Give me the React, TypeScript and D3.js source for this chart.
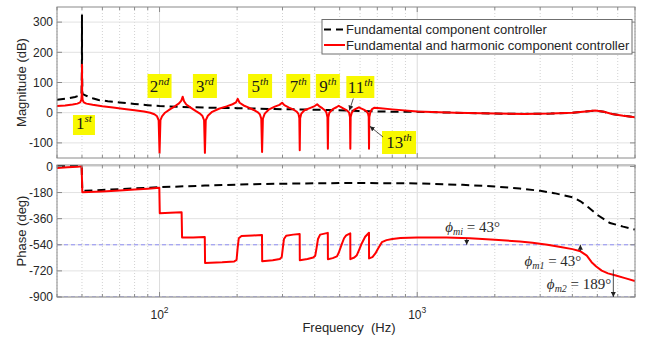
import React from 'react';
import * as d3 from 'd3';

type Pt = [number, number];

// Open-loop magnitude, [frequency Hz, dB]
const magFundamental: Pt[] = [
  [40, 43], [44, 47], [47, 52], [49, 57], [49.8, 62], [49.95, 130], [50, 325], [50.05, 130],
  [50.2, 62], [52, 56], [55, 48], [58, 42], [63, 38], [70, 34], [80, 29], [90, 25], [100, 22],
  [120, 19], [150, 17], [200, 15], [280, 12], [350, 11], [450, 9], [550, 7], [650, 5], [800, 3],
  [1000, 3], [1400, 0], [2000, -3], [2600, -4], [3300, -3], [4000, 0], [4500, 4], [4900, 7],
  [5300, 3], [5700, -4], [6300, -10], [7000, -15],
];

const magHarmonic: Pt[] = [
  [40, 22], [43, 24], [46, 27], [48, 30], [49.2, 34], [49.7, 42], [49.9, 60], [50, 159], [50.1, 60],
  [50.3, 42], [50.8, 34], [52, 30], [55, 26], [60, 21], [66, 17], [73, 12], [80, 8], [87, 4], [92, 0],
  [95.5, -5], [97.8, -12], [99.2, -25], [100, -133],
  [100.8, -25], [102.2, -12], [105, 0], [110, 12], [115, 22], [119, 31], [121.5, 40], [123, 53],
  [124.5, 38], [127, 27], [132, 17], [138, 6], [143, -2], [146.5, -10], [148.9, -25], [150, -133],
  [151.1, -25], [154, -10], [160, 3], [170, 13], [182, 21], [192, 28], [198, 34], [201, 46],
  [204.5, 33], [212, 24], [222, 17], [232, 9], [240, 2], [245, -5], [248.2, -20], [250, -130],
  [251.8, -20], [256, -3], [265, 10], [280, 20], [292, 26], [299, 33], [305, 25], [318, 17],
  [330, 11], [340, 4], [346, -4], [348.7, -18], [350, -124],
  [351.3, -18], [355, -3], [365, 8], [385, 16], [400, 22], [409, 28], [416, 22], [428, 15],
  [438, 8], [444, 1], [448.3, -15], [450, -119],
  [451.7, -15], [456, 0], [470, 12], [486, 18], [496, 23], [504, 19], [520, 13], [535, 7],
  [544, 0], [548.3, -14], [550, -119],
  [551.7, -14], [557, 0], [570, 10], [585, 15], [594, 18], [602, 15], [620, 10], [635, 5],
  [644, -2], [648.2, -14], [650, -119],
  [651.8, -14], [658, 2], [668, 12], [680, 16], [720, 15], [800, 11], [1000, 4], [1400, 0],
  [2000, -3], [2600, -4], [3300, -3], [4000, 0], [4500, 4], [4900, 7], [5300, 3], [5700, -4],
  [6300, -10], [7000, -15],
];

// Open-loop phase, [frequency Hz, degrees]
const phaseFundamental: Pt[] = [
  [40, 3], [45, 5], [49.85, 6], [50.15, -168], [55, -165], [65, -159], [80, -151], [100, -143],
  [150, -132], [200, -125], [300, -119], [400, -116], [600, -114], [1000, -117], [1500, -127],
  [2000, -138], [2500, -152], [3000, -168], [3400, -184], [4000, -212], [4300, -240], [4600, -280],
  [5000, -334], [5600, -390], [6300, -415], [7000, -435],
];

const phaseHarmonic: Pt[] = [
  [40, -10], [44, -6], [48, -2], [49.85, 1], [50.15, -178], [53, -176], [60, -172], [70, -165],
  [80, -159], [90, -153], [99.8, -147], [100.2, -323], [110, -320], [121.8, -316], [122.3, -490],
  [135, -489], [149.8, -487], [150.2, -665], [175, -661], [195, -655], [199, -645], [201, -560],
  [203, -495], [208, -480], [230, -476], [249.8, -473], [250.2, -653], [275, -647], [293, -638],
  [298, -625], [301, -560], [304, -500], [310, -478], [330, -470], [349.8, -466], [350.2, -647],
  [375, -638], [395, -628], [402, -615], [407, -560], [412, -500], [420, -470], [449.8, -458],
  [450.2, -640], [470, -632], [488, -620], [496, -595], [504, -560], [511, -530], [520, -495],
  [530, -475], [549.8, -461], [550.2, -639], [570, -628], [583, -612], [595, -575], [609, -531],
  [628, -485], [649.8, -457], [650.2, -634], [670, -625], [688, -600], [705, -565], [729, -522],
  [760, -508], [800, -500], [860, -493], [1000, -490], [1300, -489], [1600, -495], [2000, -505],
  [2500, -518], [2800, -526], [3200, -540], [3600, -555], [4000, -570], [4300, -585], [4550, -615],
  [4750, -660], [4950, -690], [5200, -718], [5500, -737], [5900, -752], [6400, -770], [7000, -790],
];

const magTicks = [-100, 0, 100, 200, 300];
const phaseTicks = [0, -180, -360, -540, -720, -900];
const phaseRefLines = [-540, -900];

const baseHz = 50;
const harmonicOrders = [1, 2, 3, 5, 7, 9, 11, 13];
const harmonicSuffixes = ['st', 'nd', 'rd', 'th', 'th', 'th', 'th', 'th'];

// Phase margins: [subscript, margin in degrees, frequency Hz, reference line, direction]
const marginSubs = ['mi', 'm1', 'm2'];
const marginDegrees = [43, 43, 189];
const marginHz = [1556, 4297, 5768];
const marginRefs = [-540, -540, -900];
const marginSigns = [1, -1, 1];

const legendNames = ['Fundamental component controller', 'Fundamental and harmonic component controller'];

// ---- layout ----
const X0 = 57;
const X1 = 635;
const MAG_TOP = 7;
const MAG_BOTTOM = 158;
const PH_TOP = 165;
const PH_BOTTOM = 297;

const SANS = '"Liberation Sans", Arial, Helvetica, sans-serif';
const SERIF = '"Liberation Serif", "DejaVu Serif", serif';
const AXIS_INK = '#262626';
const BOX = '#8a8a8a';
const RED = '#ff0000';

// tag placement per harmonic order: horizontal nudge from the harmonic, box top, width, height, baseline offset
const tagLayout: Record<number, { dx: number; top: number; w: number; h: number; base: number }> = {
  1: { dx: 2, top: 115, w: 22, h: 20, base: 14 },
  2: { dx: 0, top: 74, w: 24, h: 24, base: 18 },
  3: { dx: 0, top: 74, w: 24, h: 24, base: 18 },
  5: { dx: -2, top: 74, w: 24, h: 24, base: 18 },
  7: { dx: -1.5, top: 74, w: 24, h: 24, base: 18 },
  9: { dx: 0, top: 74, w: 24, h: 24, base: 18 },
  11: { dx: 10, top: 76, w: 28, h: 22, base: 16.5 },
  13: { dx: 30, top: 131, w: 34, h: 23, base: 17 },
};

export default function App() {
  const x = d3.scaleLog().domain([40, 7000]).range([X0, X1]);
  const yMag = d3.scaleLinear().domain([-150, 350]).range([MAG_BOTTOM, MAG_TOP]);
  const yPh = d3.scaleLinear().domain([-900, 10]).range([PH_BOTTOM, PH_TOP]);

  const magLine = d3.line<Pt>().x((d) => x(d[0])).y((d) => yMag(d[1]));
  const phLine = d3.line<Pt>().x((d) => x(d[0])).y((d) => yPh(d[1]));

  const fTicks = x.ticks();
  const isDecade = (f: number) => Math.abs(Math.log10(f) - Math.round(Math.log10(f))) < 1e-9;

  const panelFrame = (
    top: number,
    bottom: number,
    yScale: d3.ScaleLinear<number, number>,
    yTicks: number[],
    key: string
  ) => (
    <g key={key}>
      {/* vertical grid */}
      {fTicks.map((f) => (
        <line
          key={`vg${f}`}
          x1={x(f)}
          x2={x(f)}
          y1={top}
          y2={bottom}
          stroke={isDecade(f) ? '#dcdcdc' : '#d2d2d2'}
          strokeWidth={1}
          strokeDasharray={isDecade(f) ? undefined : '1 2'}
        />
      ))}
      {/* horizontal grid */}
      {yTicks.map((v) => (
        <line key={`hg${v}`} x1={X0} x2={X1} y1={yScale(v)} y2={yScale(v)} stroke="#e2e2e2" strokeWidth={1} />
      ))}
    </g>
  );

  const panelTicks = (
    top: number,
    bottom: number,
    yScale: d3.ScaleLinear<number, number>,
    yTicks: number[],
    key: string
  ) => (
    <g key={key} stroke={BOX} strokeWidth={1}>
      {fTicks.map((f) => {
        const len = isDecade(f) ? 5 : 3;
        return (
          <g key={`t${f}`}>
            <line x1={x(f)} x2={x(f)} y1={top} y2={top + len} />
            <line x1={x(f)} x2={x(f)} y1={bottom} y2={bottom - len} />
          </g>
        );
      })}
      {yTicks.map((v) => (
        <g key={`yt${v}`}>
          <line x1={X0} x2={X0 + 5} y1={yScale(v)} y2={yScale(v)} />
          <line x1={X1} x2={X1 - 5} y1={yScale(v)} y2={yScale(v)} />
        </g>
      ))}
      <rect x={X0} y={top} width={X1 - X0} height={bottom - top} fill="none" />
    </g>
  );

  return (
    <svg
      width={645}
      height={340}
      viewBox="0 0 645 340"
      style={{ position: 'absolute', left: 0, top: 0, background: '#fff' }}
    >
      <defs>
        <clipPath id="clipMag">
          <rect x={X0} y={MAG_TOP} width={X1 - X0} height={MAG_BOTTOM - MAG_TOP} />
        </clipPath>
        <clipPath id="clipPh">
          <rect x={X0} y={PH_TOP} width={X1 - X0} height={PH_BOTTOM - PH_TOP} />
        </clipPath>
        <marker
          id="head"
          viewBox="0 0 10 10"
          refX={10}
          refY={5}
          markerWidth={5}
          markerHeight={5}
          markerUnits="userSpaceOnUse"
          orient="auto"
        >
          <path d="M0,0 L10,5 L0,10 z" fill="#222" />
        </marker>
      </defs>

      <rect x={0} y={0} width={645} height={340} fill="#fff" />

      {panelFrame(MAG_TOP, MAG_BOTTOM, yMag, magTicks, 'magGrid')}
      {panelFrame(PH_TOP, PH_BOTTOM, yPh, phaseTicks, 'phGrid')}

      {/* magnitude curves */}
      <g clipPath="url(#clipMag)" fill="none">
        <path d={magLine(magFundamental) ?? ''} stroke="#000" strokeWidth={2} strokeDasharray="8 5" />
        <path d={magLine(magHarmonic) ?? ''} stroke={RED} strokeWidth={2} strokeLinejoin="round" />
      </g>

      {/* phase curves */}
      <g clipPath="url(#clipPh)" fill="none">
        {phaseRefLines.map((v) => (
          <line key={`ref${v}`} x1={X0} x2={X1} y1={yPh(v)} y2={yPh(v)} stroke="#8f8ff5" strokeWidth={1} strokeDasharray="4 3" />
        ))}
        <path d={phLine(phaseFundamental) ?? ''} stroke="#000" strokeWidth={2} strokeDasharray="8 5" />
        <path d={phLine(phaseHarmonic) ?? ''} stroke={RED} strokeWidth={2} strokeLinejoin="round" />
      </g>

      {panelTicks(MAG_TOP, MAG_BOTTOM, yMag, magTicks, 'magTicks')}
      {panelTicks(PH_TOP, PH_BOTTOM, yPh, phaseTicks, 'phTicks')}

      {/* y tick labels */}
      <g fontFamily={SANS} fontSize={12} fill={AXIS_INK} textAnchor="end">
        {magTicks.map((v) => (
          <text key={`ml${v}`} x={53} y={yMag(v)} dy="0.36em">
            {v}
          </text>
        ))}
        {phaseTicks.map((v) => (
          <text key={`pl${v}`} x={53} y={yPh(v)} dy="0.36em">
            {v}
          </text>
        ))}
      </g>

      {/* x tick labels, decades only */}
      <g fontFamily={SANS} fontSize={12} fill={AXIS_INK} textAnchor="middle">
        {fTicks.filter(isDecade).map((f) => (
          <text key={`xl${f}`} x={x(f)} y={318.5}>
            10
            <tspan fontSize={8.5} dy={-6}>
              {Math.round(Math.log10(f))}
            </tspan>
          </text>
        ))}
      </g>

      {/* axis titles */}
      <g fontFamily={SANS} fontSize={13} fill={AXIS_INK} textAnchor="middle">
        <text transform={`translate(26,${(MAG_TOP + MAG_BOTTOM) / 2}) rotate(-90)`}>Magnitude (dB)</text>
        <text transform={`translate(26,${(PH_TOP + PH_BOTTOM) / 2}) rotate(-90)`}>Phase (deg)</text>
        <text x={(X0 + X1) / 2 + 3} y={332} xmlSpace="preserve">
          Frequency  (Hz)
        </text>
      </g>

      {/* harmonic tags */}
      <g fontFamily={SERIF}>
        {harmonicOrders.map((n, i) => {
          const L = tagLayout[n];
          const cx = x(baseHz * n) + L.dx;
          return (
            <g key={`tag${n}`}>
              <rect x={cx - L.w / 2} y={L.top} width={L.w} height={L.h} fill="#f8f800" />
              <text x={cx} y={L.top + L.base} textAnchor="middle" fontSize={17} fill="#1a1a1a">
                {n}
                <tspan fontSize={11} fontStyle="italic" dy={-7}>
                  {harmonicSuffixes[i]}
                </tspan>
              </text>
            </g>
          );
        })}
      </g>

      {/* pointers from the 11th and 13th tags to their notches */}
      <g stroke="#222" strokeWidth={0.8} fill="none">
        <line x1={x(550) + 3} y1={98.5} x2={x(550) - 1} y2={yMag(7)} markerEnd="url(#head)" />
        <line x1={x(650) + 14} y1={137} x2={x(650) + 0.8} y2={yMag(-45)} markerEnd="url(#head)" />
      </g>

      {/* phase margin annotations */}
      {marginSubs.map((sub, i) => {
        const fx = x(marginHz[i]);
        const yFrom = yPh(marginRefs[i] + marginSigns[i] * marginDegrees[i]);
        const yTo = yPh(marginRefs[i]);
        const label = (
          <>
            <tspan fontStyle="italic">ϕ</tspan>
            <tspan fontStyle="italic" fontSize={10} dy={3}>
              {sub}
            </tspan>
            <tspan dy={-3}>{` = ${marginDegrees[i]}°`}</tspan>
          </>
        );
        const textProps =
          i === 0
            ? { x: fx + 6, y: 231.5, textAnchor: 'middle' as const }
            : i === 1
            ? { x: fx + 1, y: 266, textAnchor: 'end' as const }
            : { x: fx - 2, y: 288.5, textAnchor: 'end' as const };
        return (
          <g key={`pm${sub}`}>
            <line x1={fx} x2={fx} y1={yFrom} y2={yTo} stroke="#222" strokeWidth={0.8} markerEnd="url(#head)" />
            <text {...textProps} fontFamily={SERIF} fontSize={15} fill="#2a2a2a">
              {label}
            </text>
          </g>
        );
      })}

      {/* legend */}
      <g>
        <rect x={322} y={19.5} width={310} height={34.5} fill="#fff" stroke="#6f6f6f" strokeWidth={1} />
        <line x1={324} x2={344} y1={29.5} y2={29.5} stroke="#000" strokeWidth={2} strokeDasharray="7 5" />
        <line x1={324} x2={345} y1={45} y2={45} stroke={RED} strokeWidth={2} />
        <g fontFamily={SANS} fontSize={13} fill={AXIS_INK}>
          <text x={346} y={34}>
            {legendNames[0]}
          </text>
          <text x={346} y={49.5}>
            {legendNames[1]}
          </text>
        </g>
      </g>
    </svg>
  );
}
